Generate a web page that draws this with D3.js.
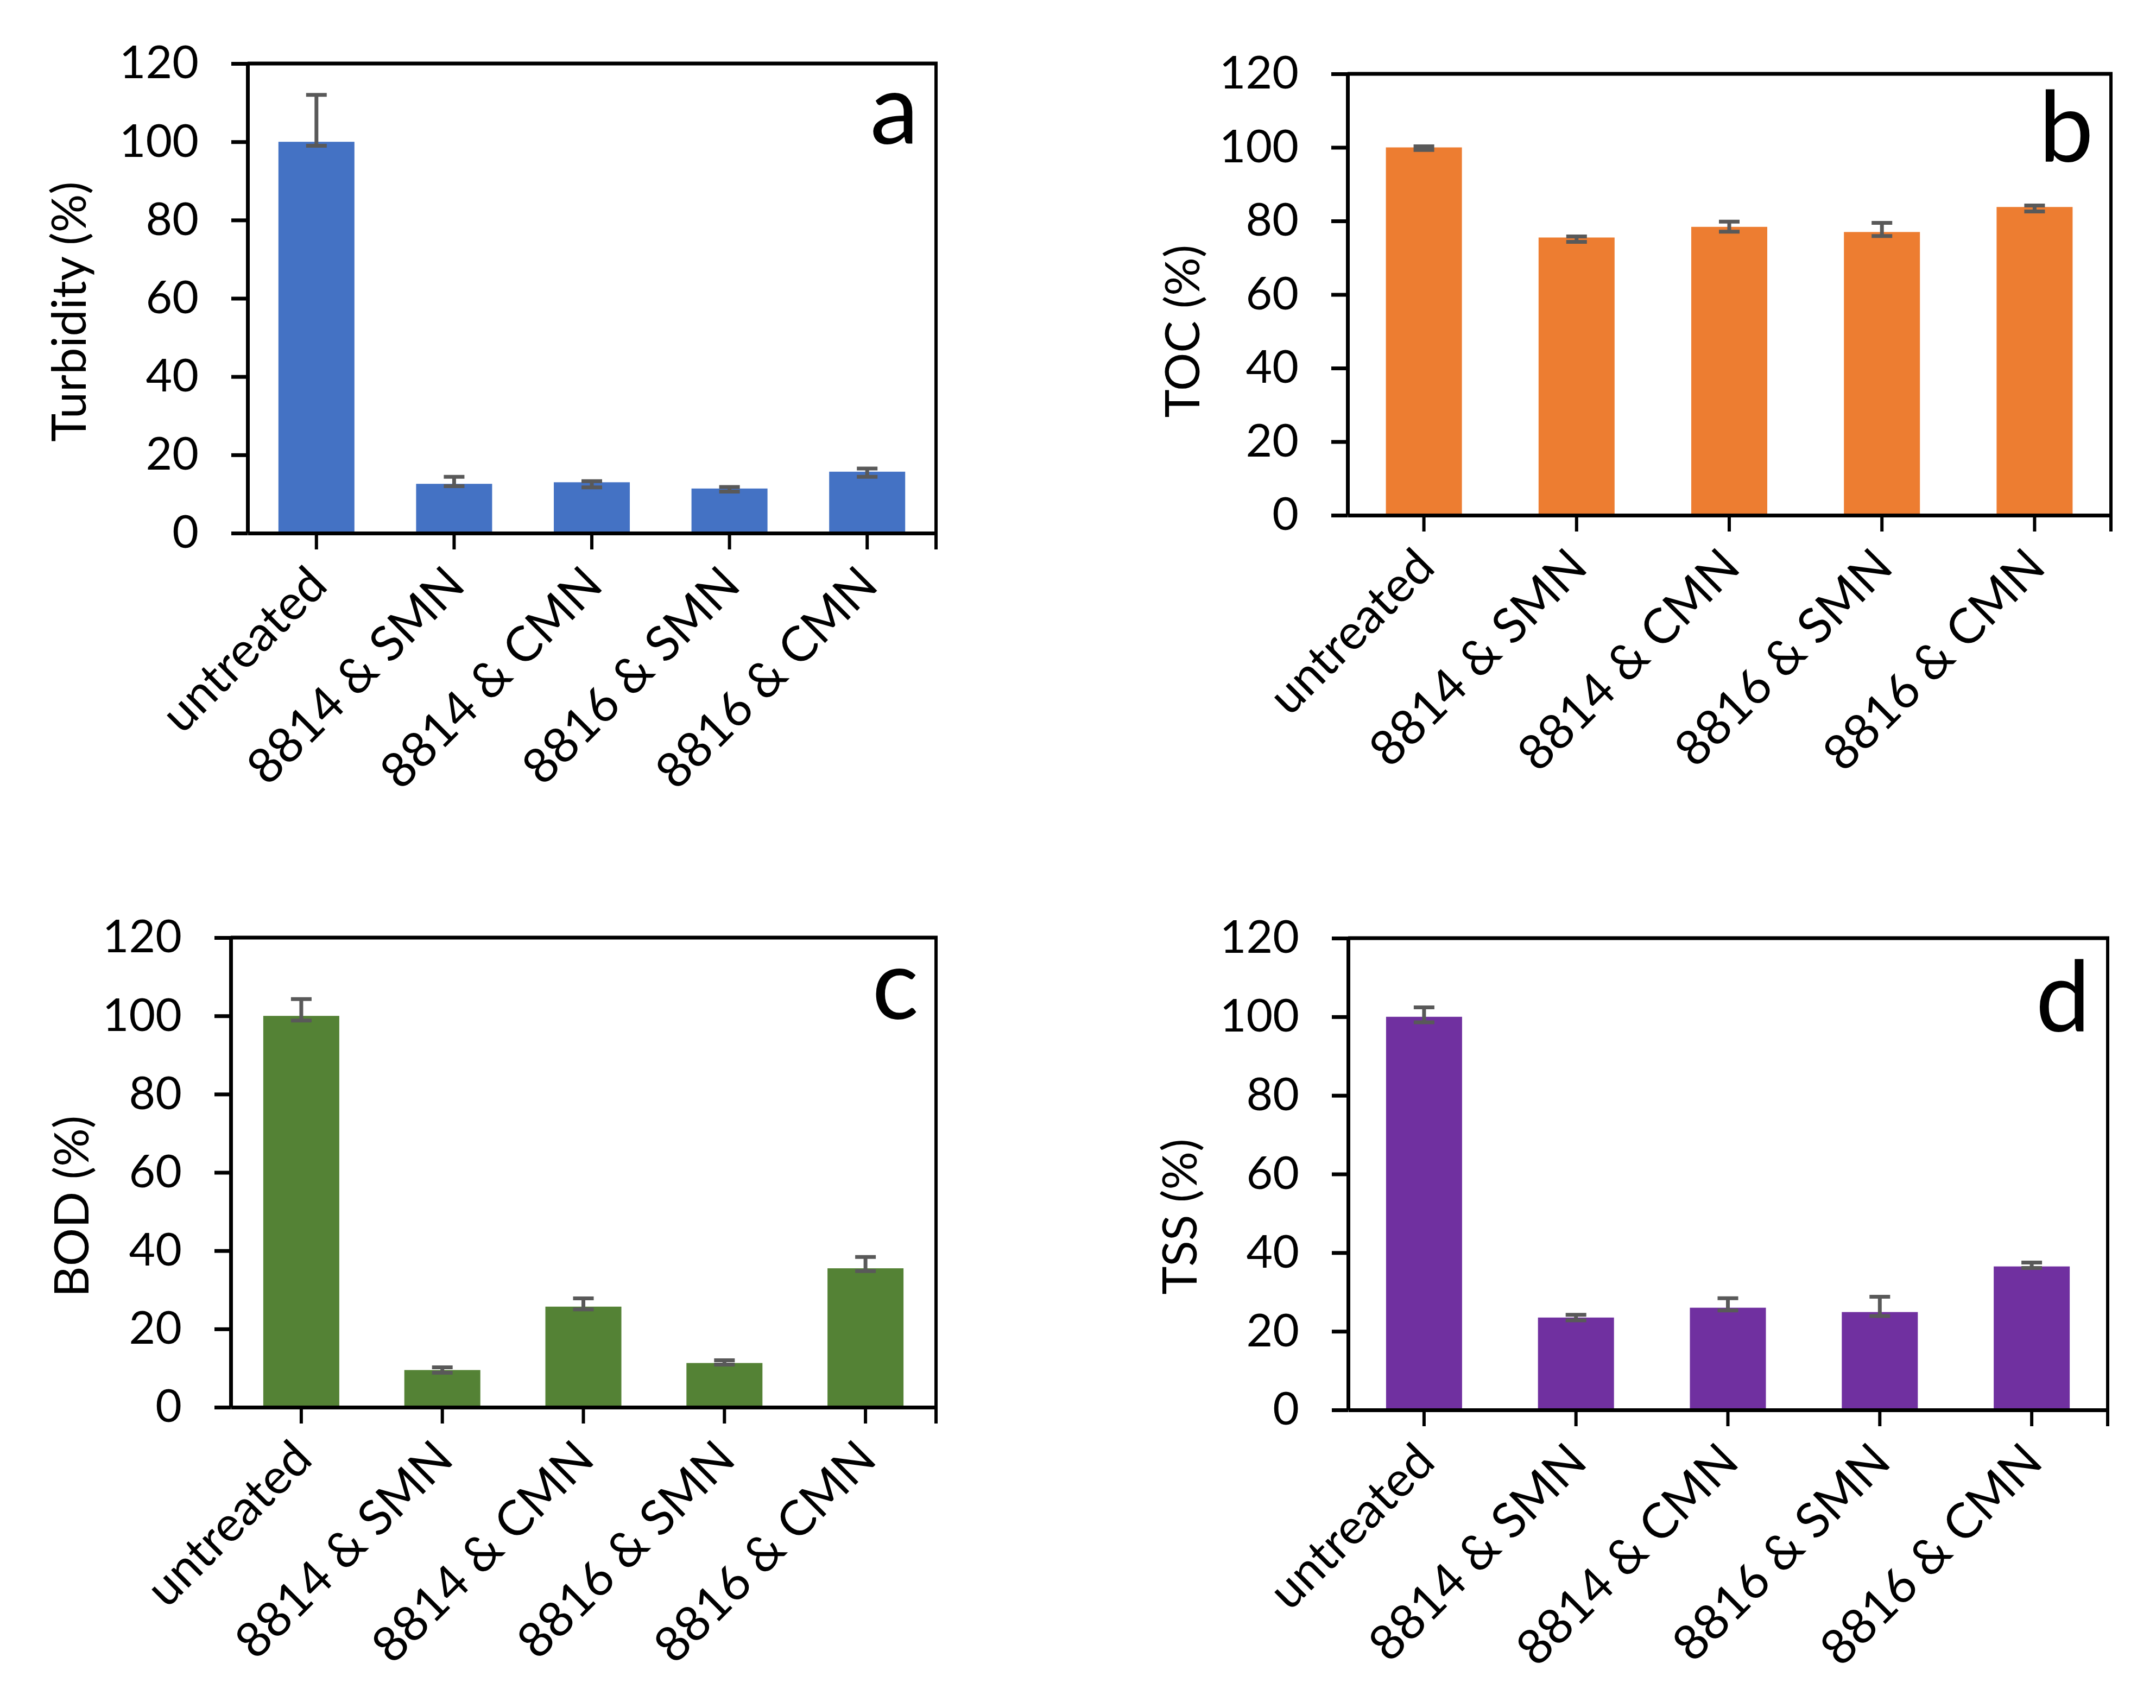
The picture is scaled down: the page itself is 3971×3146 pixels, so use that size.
<!DOCTYPE html>
<html>
<head>
<meta charset="utf-8">
<script src="https://cdn.jsdelivr.net/npm/d3@7"></script>
<style>
  body { margin: 0; background: #fff; }
  svg text { font-family: Lato, "Open Sans", sans-serif; fill: #000; }
</style>
</head>
<body>
<svg id="chart" width="3971" height="3146"></svg>
<script>
// categories shared by all four panels
const categories = ["untreated", "8814 & SMN", "8814 & CMN", "8816 & SMN", "8816 & CMN"];
const yTicks = [0, 20, 40, 60, 80, 100, 120];

// values (%) and error bar lengths
const turbidity = [100, 12.6, 13.0, 11.4, 15.7];
const turbidityUp = [12, 1.8, 0.3, 0.4, 0.8];
const turbidityDown = [1, 0.6, 1.3, 0.8, 1.3];

const toc = [100, 75.5, 78.4, 77.0, 83.8];
const tocUp = [0.3, 0.3, 1.4, 2.5, 0.4];
const tocDown = [0.7, 1.2, 1.3, 1.1, 1.2];

const bod = [100, 9.5, 25.7, 11.3, 35.5];
const bodUp = [4.3, 0.7, 2.1, 0.7, 2.9];
const bodDown = [1.2, 0.7, 0.7, 0.4, 0.7];

const tss = [100, 23.5, 26.0, 24.9, 36.5];
const tssUp = [2.4, 0.7, 2.4, 3.9, 1.0];
const tssDown = [1.4, 0.7, 0.7, 1.0, 0.4];

const svg = d3.select("#chart");

const panels = [
  {values: turbidity, up: turbidityUp, down: turbidityDown, color: "#4472C4",
   title: "Turbidity (%)", letter: "a", letterDy: 148,
   box: {left: 456, right: 1724, top: 117, bottom: 982}, titleX: 127, titleY: 574},
  {values: toc, up: tocUp, down: tocDown, color: "#ED7D31",
   title: "TOC (%)", letter: "b", letterDy: 162,
   box: {left: 2482, right: 3888, top: 136, bottom: 949}, titleX: 2178, titleY: 610},
  {values: bod, up: bodUp, down: bodDown, color: "#548235",
   title: "BOD (%)", letter: "c", letterDy: 150,
   box: {left: 425, right: 1724, top: 1727, bottom: 2592}, titleX: 132, titleY: 2222},
  {values: tss, up: tssUp, down: tssDown, color: "#7030A0",
   title: "TSS (%)", letter: "d", letterDy: 172,
   box: {left: 2483, right: 3882, top: 1728, bottom: 2597}, titleX: 2173, titleY: 2241}
];

const barWidth = 140;
const tickLen = 30;

function drawPanel(p) {
  const b = p.box;
  const g = svg.append("g");
  const step = (b.right - b.left) / categories.length;
  const pad = 1 - barWidth / step;

  const x = d3.scaleBand()
    .domain(categories)
    .range([b.left, b.right])
    .paddingInner(pad)
    .paddingOuter(pad / 2);

  const y = d3.scaleLinear().domain([0, 120]).range([b.bottom, b.top]);

  // bars
  g.selectAll("rect.bar")
    .data(p.values)
    .enter().append("rect")
    .attr("class", "bar")
    .attr("x", (d, i) => x(categories[i]))
    .attr("width", x.bandwidth())
    .attr("y", d => y(d))
    .attr("height", d => y(0) - y(d))
    .attr("fill", p.color);

  // error bars
  const err = g.selectAll("g.err")
    .data(p.values)
    .enter().append("g")
    .attr("class", "err")
    .attr("transform", (d, i) => `translate(${x(categories[i]) + x.bandwidth() / 2},0)`);
  err.append("line")
    .attr("y1", (d, i) => y(d + p.up[i]))
    .attr("y2", (d, i) => y(d - p.down[i]));
  err.append("line")
    .attr("x1", -19).attr("x2", 19)
    .attr("y1", (d, i) => y(d + p.up[i]))
    .attr("y2", (d, i) => y(d + p.up[i]));
  err.append("line")
    .attr("x1", -19).attr("x2", 19)
    .attr("y1", (d, i) => y(d - p.down[i]))
    .attr("y2", (d, i) => y(d - p.down[i]));
  err.selectAll("line")
    .attr("stroke", "#595959")
    .attr("stroke-width", 7);

  // frame: top and right
  g.append("line")
    .attr("x1", b.left).attr("x2", b.right + 3)
    .attr("y1", b.top).attr("y2", b.top)
    .attr("stroke", "#000").attr("stroke-width", 7);
  g.append("line")
    .attr("x1", b.right).attr("x2", b.right)
    .attr("y1", b.top).attr("y2", b.bottom + tickLen)
    .attr("stroke", "#000").attr("stroke-width", 6);

  // y axis
  const yAxis = g.append("g")
    .attr("transform", `translate(${b.left},0)`)
    .call(d3.axisLeft(y).tickValues(yTicks).tickSize(tickLen).tickSizeOuter(0).tickPadding(60));
  yAxis.select(".domain").attr("stroke-width", 7);
  yAxis.selectAll(".tick line").attr("stroke-width", 7);
  yAxis.selectAll(".tick text").attr("font-size", 84).attr("fill", "#000");

  // x axis
  const xAxis = g.append("g")
    .attr("transform", `translate(0,${b.bottom})`)
    .call(d3.axisBottom(x).tickSize(tickLen).tickSizeOuter(0));
  xAxis.select(".domain").attr("stroke-width", 7);
  xAxis.selectAll(".tick line").attr("stroke-width", 6);
  xAxis.selectAll(".tick text")
    .attr("font-size", 90)
    .attr("fill", "#000")
    .attr("y", null)
    .attr("dy", "0.35em")
    .attr("text-anchor", "end")
    .attr("transform", "translate(2,78) rotate(-45)");

  // axis title
  g.append("text")
    .attr("transform", `translate(${p.titleX},${p.titleY}) rotate(-90)`)
    .attr("text-anchor", "middle")
    .attr("dy", "0.35em")
    .attr("font-size", 88)
    .text(p.title);

  // panel letter
  g.append("text")
    .attr("x", b.right - 32)
    .attr("y", b.top + p.letterDy)
    .attr("text-anchor", "end")
    .attr("font-size", 180)
    .text(p.letter);

  svg.selectAll(".domain, .tick line").attr("stroke", "#000");
}

panels.forEach(drawPanel);
</script>
</body>
</html>
